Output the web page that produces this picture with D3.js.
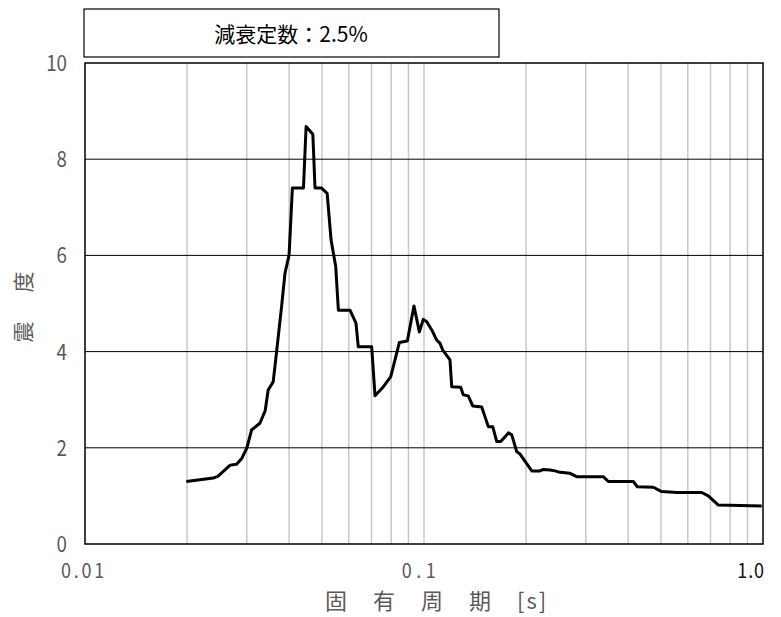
<!DOCTYPE html>
<meta charset="utf-8">
<style>
body { margin: 0; background: #fff; }
svg text { font-family: "Noto Sans CJK JP", "Noto Sans", sans-serif; }
.tick-label { fill: #595959; font-size: 22px; }
.axis-title { fill: #595959; font-size: 21px; }
</style>
<body>
<svg width="781" height="617"></svg>
<script src="https://d3js.org/d3.v7.min.js"></script>
<script>
// period [s]
var periods = [0.0199, 0.0239, 0.0247, 0.0268, 0.0280, 0.0290, 0.0300, 0.0310, 0.0328, 0.0340,
  0.0347, 0.0359, 0.0366, 0.0380, 0.0389, 0.0400, 0.0409, 0.0441, 0.0449, 0.0470,
  0.0477, 0.0499, 0.0518, 0.0532, 0.0549, 0.0559, 0.0605, 0.0630, 0.0640, 0.0701,
  0.0717, 0.0759, 0.0798, 0.0846, 0.0893, 0.0934, 0.0969, 0.0995, 0.1019, 0.1054,
  0.1090, 0.1115, 0.1136, 0.1193, 0.1207, 0.1283, 0.1306, 0.1351, 0.1392, 0.1480,
  0.1548, 0.1595, 0.1639, 0.1684, 0.1774, 0.1815, 0.1877, 0.1920, 0.2079, 0.2199,
  0.2249, 0.2353, 0.2435, 0.2519, 0.2697, 0.2821, 0.3381, 0.3497, 0.4144, 0.4258,
  0.4747, 0.5026, 0.5566, 0.6596, 0.6897, 0.7383, 0.8554, 0.9913];
// seismic intensity
var intensity = [1.30, 1.37, 1.41, 1.64, 1.66, 1.78, 1.99, 2.37, 2.51, 2.77,
  3.20, 3.37, 3.89, 4.93, 5.63, 6.01, 7.40, 7.40, 8.68, 8.52,
  7.40, 7.40, 7.29, 6.32, 5.77, 4.86, 4.86, 4.59, 4.10, 4.10,
  3.08, 3.27, 3.48, 4.19, 4.22, 4.95, 4.41, 4.67, 4.62, 4.45,
  4.24, 4.17, 4.03, 3.83, 3.27, 3.26, 3.10, 3.08, 2.87, 2.85,
  2.44, 2.44, 2.13, 2.13, 2.31, 2.27, 1.92, 1.87, 1.52, 1.52,
  1.55, 1.54, 1.52, 1.49, 1.47, 1.40, 1.40, 1.30, 1.30, 1.19,
  1.18, 1.09, 1.07, 1.07, 1.00, 0.81, 0.80, 0.79];

var yTicks = [0, 2, 4, 6, 8, 10];
var xTickLabels = [{v: 0.01, t: "0.01"}, {v: 0.1, t: "0.1"}, {v: 1.0, t: "1.0"}];
var titleText = "減衰定数：2.5%";
var xTitle = "固　有　周　期　[s]";
var yTitle = "震　度";

var svg = d3.select("svg");
var plotL = 85, plotR = 763, plotT = 63, plotB = 544;

var x = d3.scaleLog().domain([0.01, 1]).range([plotL, plotR]);
var y = d3.scaleLinear().domain([0, 10]).range([plotB, plotT]);

// minor vertical gridlines
var vGrid = [];
[0.01, 0.1].forEach(function(d) {
  for (var i = 1; i <= 9; i++) vGrid.push(d * i);
});
svg.append("g").selectAll("line")
  .data(vGrid.filter(function(d) { return d > 0.01 && d < 1; }))
  .enter().append("line")
  .attr("x1", function(d) { return x(d); }).attr("x2", function(d) { return x(d); })
  .attr("y1", plotT).attr("y2", plotB)
  .attr("stroke", "#c8c8c8").attr("stroke-width", 1.5);

// horizontal gridlines
svg.append("g").selectAll("line")
  .data(yTicks.filter(function(d) { return d > 0 && d < 10; }))
  .enter().append("line")
  .attr("x1", plotL).attr("x2", plotR)
  .attr("y1", function(d) { return y(d); }).attr("y2", function(d) { return y(d); })
  .attr("stroke", "#000").attr("stroke-width", 1);

// plot border
svg.append("rect")
  .attr("x", plotL).attr("y", plotT).attr("width", plotR - plotL).attr("height", plotB - plotT)
  .attr("fill", "none").attr("stroke", "#000").attr("stroke-width", 1.5);

// curve
var pts = periods.map(function(p, i) { return [p, intensity[i]]; });
svg.append("path")
  .datum(pts)
  .attr("fill", "none").attr("stroke", "#000").attr("stroke-width", 3)
  .attr("stroke-linejoin", "round")
  .attr("d", d3.line().x(function(d) { return x(d[0]); }).y(function(d) { return y(d[1]); }));

// y tick labels (narrow digits)
svg.append("g").selectAll("text")
  .data(yTicks)
  .enter().append("text")
  .attr("class", "tick-label")
  .attr("transform", function(d) { return "translate(67," + (y(d) + 8) + ") scale(0.85,1)"; })
  .attr("text-anchor", "end")
  .text(function(d) { return d; });

// x tick labels
svg.append("g").selectAll("text")
  .data(xTickLabels)
  .enter().append("text")
  .attr("class", "tick-label")
  .attr("transform", function(d) {
    var px = d.v === 0.01 ? 84 : (d.v === 1 ? 765 : 421);
    return "translate(" + px + ",578) scale(0.9,1)";
  })
  .attr("text-anchor", function(d) { return d.v === 1 ? "end" : "middle"; })
  .style("font-size", "20px")
  .style("fill", function(d) { return d.v === 1 ? "#111" : null; })
  .style("letter-spacing", function(d) { return d.v === 1 ? "1px" : (d.v === 0.1 ? "5px" : "3px"); })
  .text(function(d) { return d.t; });

// axis titles
svg.append("text")
  .attr("class", "axis-title")
  .attr("x", 325).attr("y", 609)
  .style("font-size", "22px")
  .style("letter-spacing", "2px")
  .text(xTitle);

svg.append("text")
  .attr("class", "axis-title")
  .attr("transform", "translate(31,305) rotate(-90)")
  .attr("text-anchor", "middle")
  .style("letter-spacing", "4px")
  .text(yTitle);

// title box
svg.append("rect")
  .attr("x", 84).attr("y", 9).attr("width", 415).attr("height", 48)
  .attr("fill", "#fff").attr("stroke", "#000").attr("stroke-width", 1.2);
svg.append("text")
  .attr("x", 291).attr("y", 42)
  .attr("text-anchor", "middle")
  .style("font-size", "21px").style("fill", "#000")
  .text(titleText);
</script>
</body>
